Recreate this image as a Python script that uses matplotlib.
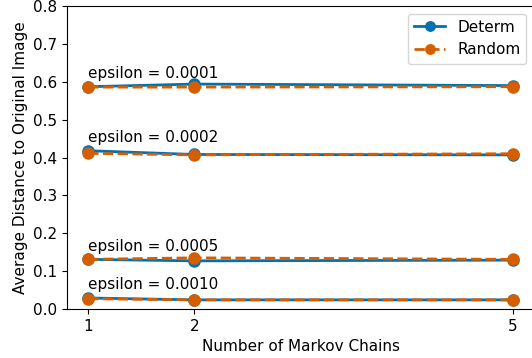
import numpy as np
import matplotlib.pyplot as plt

chains = [1, 2, 5]
epsilons = ['0.0001', '0.0002', '0.0005', '0.0010']
determ = [
    [0.587, 0.594, 0.590],
    [0.418, 0.408, 0.407],
    [0.131, 0.127, 0.129],
    [0.029, 0.024, 0.024],
]
random_ = [
    [0.586, 0.586, 0.587],
    [0.411, 0.407, 0.410],
    [0.131, 0.135, 0.131],
    [0.027, 0.024, 0.024],
]

blue = '#0072B2'
orange = '#D55E00'

plt.rcParams['font.size'] = 11

fig = plt.figure(figsize=(5.32, 3.58), dpi=100)
ax = fig.add_axes([0.126, 0.137, 0.878, 0.846])

for i, eps in enumerate(epsilons):
    ax.plot(chains, determ[i], '-o', color=blue, lw=2, ms=8,
            label='Determ' if i == 0 else None)
    ax.plot(chains, random_[i], '--o', color=orange, lw=2, ms=8,
            label='Random' if i == 0 else None)
    ax.text(1, max(determ[i][0], random_[i][0]) + 0.015, 'epsilon = ' + eps,
            fontsize=11, va='bottom', ha='left')

ax.set_ylim(0, 0.8)
ax.set_xticks(chains)
ax.set_xlabel('Number of Markov Chains')
ax.set_ylabel('Average Distance to Original Image')
ax.legend(loc='upper right', markerscale=0.85)

plt.savefig('out.png', dpi=100)
